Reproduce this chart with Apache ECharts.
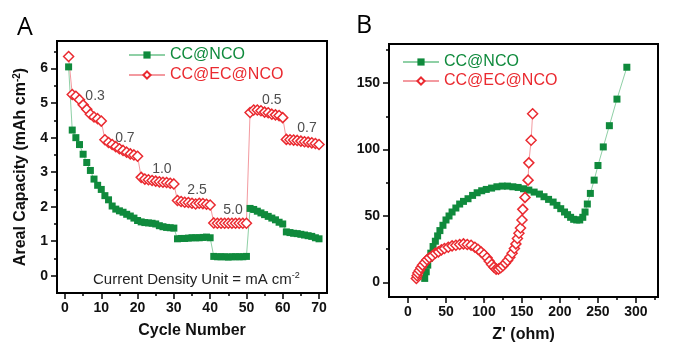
<!DOCTYPE html>
<html><head><meta charset="utf-8">
<script src="https://cdn.jsdelivr.net/npm/echarts@6/dist/echarts.min.js"></script>
<style>html,body{margin:0;padding:0;background:#fff}#c{width:680px;height:353px}</style>
</head><body><div id="c"></div>
<script>
// Panel A: rate capability (areal capacity vs cycle number)
const cycles = [1,2,3,4,5,6,7,8,9,10,11,12,13,14,15,16,17,18,19,20,21,22,23,24,25,26,27,28,29,30,31,32,33,34,35,36,37,38,39,40,41,42,43,44,45,46,47,48,49,50,51,52,53,54,55,56,57,58,59,60,61,62,63,64,65,66,67,68,69,70];
const capNCO = [6.05,4.22,4.0,3.8,3.52,3.28,3.05,2.8,2.62,2.5,
  2.32,2.2,2.02,1.93,1.88,1.84,1.78,1.73,1.67,1.6,
  1.56,1.54,1.53,1.52,1.5,1.45,1.42,1.4,1.39,1.38,
  1.07,1.08,1.08,1.09,1.1,1.1,1.1,1.11,1.12,1.1,
  0.56,0.55,0.55,0.55,0.54,0.55,0.55,0.55,0.55,0.56,
  1.95,1.92,1.87,1.82,1.77,1.72,1.67,1.62,1.55,1.5,
  1.27,1.25,1.23,1.22,1.2,1.18,1.16,1.14,1.1,1.07];
const capECNCO = [6.35,5.25,5.2,5.1,4.95,4.82,4.68,4.6,4.55,4.48,
  3.94,3.86,3.8,3.74,3.68,3.63,3.58,3.53,3.5,3.46,
  2.85,2.8,2.78,2.76,2.74,2.72,2.71,2.7,2.68,2.66,
  2.18,2.15,2.13,2.12,2.1,2.08,2.1,2.09,2.07,2.05,
  1.53,1.52,1.52,1.52,1.52,1.52,1.52,1.52,1.52,1.52,
  4.73,4.8,4.8,4.78,4.74,4.72,4.68,4.66,4.64,4.58,
  3.95,3.94,3.93,3.92,3.9,3.88,3.87,3.85,3.83,3.8];
const rateLabels = [[8.3,5.19,'0.3'],[16.5,4.0,'0.7'],[26.7,3.1,'1.0'],[36.4,2.49,'2.5'],[46.3,1.91,'5.0'],[57.0,5.1,'0.5'],[66.7,4.29,'0.7']];
const xTicksA = [0,10,20,30,40,50,60,70];
const xMinorA = [5,15,25,35,45,55,65];
const yTicksA = [0,1,2,3,4,5,6];
const yMinorA = [0.5,1.5,2.5,3.5,4.5,5.5,6.5];

// Panel B: Nyquist plot [Z', -Z'']
const nyqNCO = [[22,3],[24,8],[26,13],[28,18],[30,22],[33,27],[36,31],[39,35],[42,39],[46,43],[50,47],[54,50],[58,53],[63,56],[68,59],[73,61],[79,63],[85,65.5],[91,67.5],[97,69],[103,70],[110,71],[117,72],[124,72.5],[131,72.5],[138,72],[145,71.5],[152,70.5],[159,69.5],[166,68],[173,66.5],[179,64.5],[185,62.5],[191,60.5],[196,58],[201,55.5],[206,53],[210,51],[214,49],[218,47.5],[222,47],[226,47],[230,49],[233,53],[236,59],[240,67],[245,77],[250,88],[257,102],[265,118],[275,138],[288,162]];
const nyqECNCO = [[11,3],[12,5],[13,7],[15,9],[17,11],[19,13],[22,15],[25,17],[28,18.5],[32,20],[36,22],[40,23],[44,24.5],[48,25.5],[53,26.5],[58,27.5],[63,28],[68,28.5],[73,29],[78,28.5],[83,28],[88,26.5],[92,25],[96,23],[100,21],[104,18.5],[107,16],[110,13.5],[113,11.5],[116,10],[119,10],[122,11],[125,12.5],[128,14.5],[131,16.5],[134,19],[137,22],[140,25.5],[142,29],[144,33],[146,37],[148,41],[150,47],[151,55],[154,64],[158,77],[159,90],[162,107],[164,127]];
const xTicksB = [0,50,100,150,200,250,300];
const xMinorB = [25,75,125,175,225,275,325];
const yTicksB = [0,50,100,150];
const yMinorB = [25,75,125,175];

const GREEN = '#0f8a3c', RED = '#ea2a30', GLINE = '#8fd0a6', RLINE = '#f39aa0';
const FONT = 'Liberation Sans';
const chart = echarts.init(document.getElementById('c'), null, {renderer:'canvas'});

const nameStyle = {fontFamily:FONT, fontWeight:'bold', fontSize:16, color:'#111',
  rich:{sup:{fontFamily:FONT, fontWeight:'bold', fontSize:10, color:'#111', verticalAlign:'top', padding:[0,0,8,0]}}};
function mainAx(dim, idx, min, max, labels, ticks, name, gap){
  const a = {type:'value', gridIndex:idx, min:min, max:max,
    position: dim==='y' ? 'left' : 'bottom',
    name:name, nameLocation:'middle', nameGap:gap, nameTextStyle:nameStyle,
    axisLine:{show:true, onZero:false, lineStyle:{color:'#000', width:2}},
    axisTick:{show:true, inside:false, length:6, customValues:ticks, lineStyle:{color:'#000', width:1.5}},
    axisLabel:{customValues:labels, margin:dim==='y'?9:8, fontFamily:FONT, fontWeight:'bold', fontSize:14, color:'#111'},
    splitLine:{show:false}};
  if (dim==='y') a.nameRotate = 90;
  return a;
}
function minorAx(dim, idx, min, max, ticks){
  return {type:'value', gridIndex:idx, min:min, max:max,
    position: dim==='y' ? 'left' : 'bottom', offset:0,
    axisLine:{show:false, onZero:false},
    axisTick:{show:true, inside:false, length:3, customValues:ticks, lineStyle:{color:'#000', width:1.5}},
    axisLabel:{show:false}, splitLine:{show:false}};
}

const option = {
  animation:false,
  backgroundColor:'#fff',
  grid:[
    {left:57, top:41, width:270, height:252, show:true, borderColor:'#000', borderWidth:2, containLabel:false},
    {left:389, top:44, width:269, height:253, show:true, borderColor:'#000', borderWidth:2, containLabel:false}
  ],
  xAxis:[
    mainAx('x', 0, -2.2, 72.2, xTicksA, xTicksA, 'Cycle Number', 30),
    mainAx('x', 1, -25, 329, xTicksB, xTicksB, "Z' (ohm)", 30),
    minorAx('x', 0, -2.2, 72.2, xMinorA),
    minorAx('x', 1, -25, 329, xMinorB)
  ],
  yAxis:[
    mainAx('y', 0, -0.5, 6.8, yTicksA, yTicksA, 'Areal Capacity (mAh cm{sup|-2})', 27),
    mainAx('y', 1, -11, 179.5, yTicksB, yTicksB, '', 30),
    minorAx('y', 0, -0.5, 6.8, yMinorA),
    minorAx('y', 1, -11, 179.5, yMinorB)
  ],
  legend:[
    {orient:'vertical', left:123, top:42, itemWidth:36, itemHeight:9, itemGap:4,
     textStyle:{fontFamily:FONT, fontSize:16},
     data:[{name:'CC@NCO', textStyle:{color:GREEN}},{name:'CC@EC@NCO', textStyle:{color:RED}}]},
    {orient:'vertical', left:397, top:49, itemWidth:36, itemHeight:9, itemGap:3,
     textStyle:{fontFamily:FONT, fontSize:16},
     data:[{name:'CC@NCO', textStyle:{color:GREEN}},{name:'CC@EC@NCO', textStyle:{color:RED}}]}
  ],
  series:[
    {name:'CC@NCO', type:'line', xAxisIndex:0, yAxisIndex:0,
     data:cycles.map((c,i)=>[c,capNCO[i]]), symbol:'rect', symbolSize:7, showAllSymbol:true,
     itemStyle:{color:GREEN}, lineStyle:{color:GLINE, width:1}},
    {name:'CC@EC@NCO', type:'line', xAxisIndex:0, yAxisIndex:0,
     data:cycles.map((c,i)=>[c,capECNCO[i]]), symbol:'diamond', symbolSize:10, showAllSymbol:true,
     itemStyle:{color:'#fff', borderColor:RED, borderWidth:1.5}, lineStyle:{color:RLINE, width:1}},
    {name:'rates', type:'scatter', xAxisIndex:0, yAxisIndex:0, symbolSize:0, silent:true,
     data:rateLabels.map(d=>({value:[d[0],d[1]], label:{formatter:d[2]}})),
     label:{show:true, position:'inside', fontFamily:FONT, fontSize:14, color:'#222'}},
    {name:'CC@NCO', type:'line', xAxisIndex:1, yAxisIndex:1,
     data:nyqNCO, symbol:'rect', symbolSize:7, showAllSymbol:true,
     itemStyle:{color:GREEN}, lineStyle:{color:GLINE, width:1}},
    {name:'CC@EC@NCO', type:'line', xAxisIndex:1, yAxisIndex:1,
     data:nyqECNCO, symbol:'diamond', symbolSize:10, showAllSymbol:true,
     itemStyle:{color:'#fff', borderColor:RED, borderWidth:1.5}, lineStyle:{color:RLINE, width:1}}
  ],
  graphic:[
    {type:'text', left:17, top:15, style:{text:'A', fontFamily:'Open Sans', fontSize:25, fill:'#000'}},
    {type:'text', left:356, top:13, style:{text:'B', fontFamily:'Open Sans', fontSize:25, fill:'#000'}},
    {type:'text', left:93, top:271, style:{text:'Current Density Unit = mA cm{sup|-2}', fontFamily:FONT, fontSize:15, fill:'#222',
      rich:{sup:{fontFamily:FONT, fontSize:9, fill:'#222', verticalAlign:'top', padding:[0,0,8,0]}}}}
  ]
};
chart.setOption(option);
</script></body></html>
